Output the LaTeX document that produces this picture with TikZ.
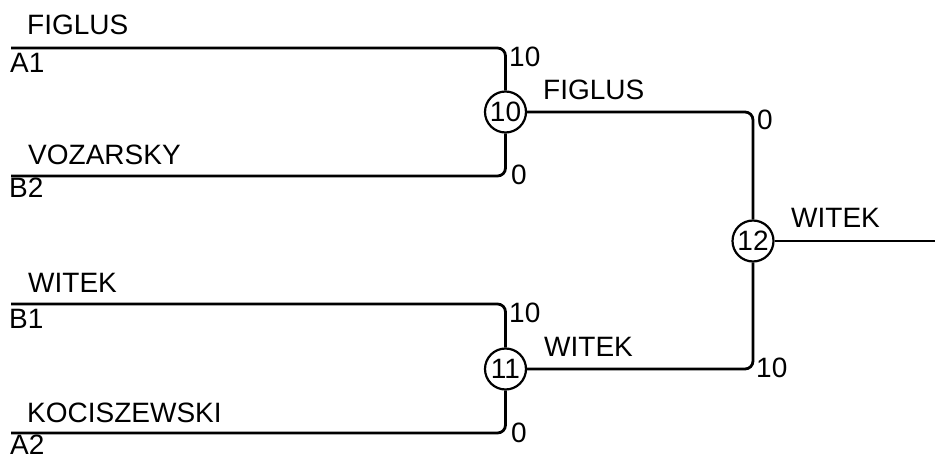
\documentclass[tikz,border=0pt]{standalone}
\usepackage{fontspec}
\setmainfont{Liberation Sans}
\begin{document}
\begin{tikzpicture}[x=1pt,y=-1pt,
  wire/.style={line width=2.8pt,rounded corners=8pt},
  match/.style={circle,draw,line width=2.2pt,minimum size=41pt,inner sep=0pt,fill=white,font=\fontsize{28}{32}\selectfont},
  lbl/.style={anchor=base west,inner sep=0pt,font=\fontsize{28}{32}\selectfont}]
\useasboundingbox (0,0) rectangle (935,457);
% starting points
\coordinate (a1) at (11,48);
\coordinate (b2) at (11,176);
\coordinate (b1) at (11,304);
\coordinate (a2) at (11,433);
\coordinate (fin) at (935,241);
% match circles
\node[match] (m10) at (505.5,112) {10};
\node[match] (m11) at (505.5,369) {11};
\node[match] (m12) at (753,241) {12};
% connectors
\draw[wire] (a1) -| (m10);
\draw[wire] (b2) -| (m10);
\draw[wire] (b1) -| (m11);
\draw[wire] (a2) -| (m11);
\draw[wire] (m10) -| (m12);
\draw[wire] (m11) -| (m12);
\draw[wire] (m12) -- (fin);
% player labels
\node[lbl] (n1) at (27,35) {FIGLUS};
\node[lbl] (s1) at (10,73) {A1};
\node[lbl] (n2) at (28,165) {VOZARSKY};
\node[lbl] (s2) at (9,198) {B2};
\node[lbl] (n3) at (28,293) {WITEK};
\node[lbl] (s3) at (9,328) {B1};
\node[lbl] (n4) at (27,422) {KOCISZEWSKI};
\node[lbl] (s4) at (10,454) {A2};
% winners
\node[lbl] (w10) at (543,100) {FIGLUS};
\node[lbl] (w11) at (544,356) {WITEK};
\node[lbl] (w12) at (791,228) {WITEK};
% scores
\node[lbl] (p1) at (509,67) {10};
\node[lbl] (p2) at (511,185) {0};
\node[lbl] (p3) at (509,323) {10};
\node[lbl] (p4) at (511,442) {0};
\node[lbl] (p5) at (757,130) {0};
\node[lbl] (p6) at (756,377) {10};
\end{tikzpicture}
\end{document}
